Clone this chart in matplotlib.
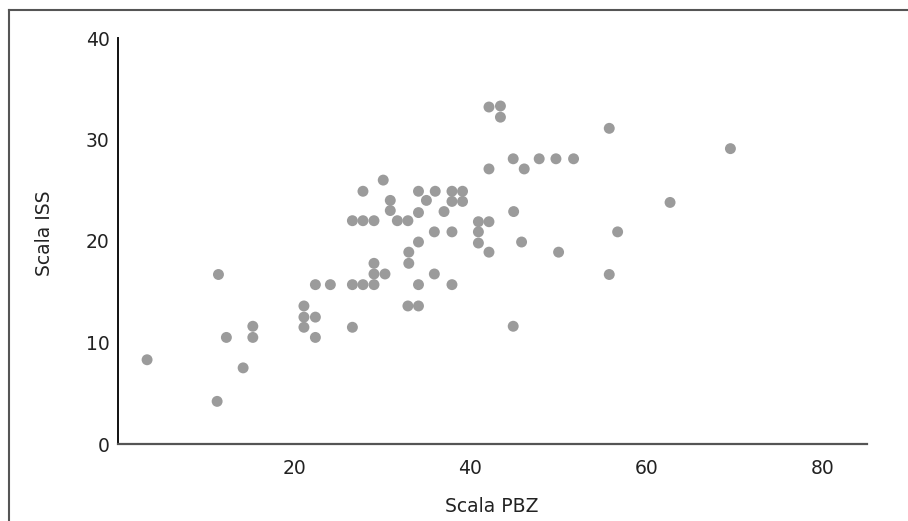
import matplotlib.pyplot as plt
from matplotlib.lines import Line2D

# data
pbz = [3.3, 11.4, 12.3, 15.3, 15.3, 14.2, 11.25,
       21.1, 21.1, 22.4, 21.1, 22.4, 22.4, 24.1, 26.6,
       42.1, 43.4, 43.4, 44.85, 46.1, 47.8, 49.7, 51.7, 42.1,
       30.1, 27.8, 34.1, 36.0, 37.9, 39.1,
       30.9, 35.0, 37.9, 39.1,
       30.9, 34.1, 37.0, 44.9,
       26.6, 27.8, 29.05, 31.7, 32.9, 40.9, 42.1,
       35.9, 37.9, 40.9, 40.9, 34.1, 45.8,
       42.1, 50.0, 33.0, 33.0, 29.05, 29.05, 30.3, 35.9,
       27.8, 29.05, 34.1, 37.9,
       32.9, 34.1, 26.6, 44.85,
       55.75, 69.5, 62.65, 56.7, 55.75]
iss = [8.3, 16.7, 10.5, 11.6, 10.5, 7.5, 4.2,
       13.6, 12.5, 12.5, 11.5, 10.5, 15.7, 15.7, 15.7,
       33.2, 33.3, 32.2, 28.1, 27.1, 28.1, 28.1, 28.1, 27.1,
       26.0, 24.9, 24.9, 24.9, 24.9, 24.9,
       24.0, 24.0, 23.9, 23.9,
       23.0, 22.8, 22.9, 22.9,
       22.0, 22.0, 22.0, 22.0, 22.0, 21.9, 21.9,
       20.9, 20.9, 20.9, 19.8, 19.9, 19.9,
       18.9, 18.9, 18.9, 17.8, 17.8, 16.75, 16.75, 16.75,
       15.7, 15.7, 15.7, 15.7,
       13.6, 13.6, 11.5, 11.6,
       31.1, 29.1, 23.8, 20.9, 16.7]

x_ticks = [20, 40, 60, 80]
y_ticks = [0, 10, 20, 30, 40]

fig = plt.figure(figsize=(9.08, 5.21), dpi=100)
W, H = 908, 521

# outer frame (top and left edges only, as in the cropped original)
fig.add_artist(Line2D([9 / W, 1], [1 - 10 / H, 1 - 10 / H], transform=fig.transFigure,
                      color='#555555', lw=1.5))
fig.add_artist(Line2D([9 / W, 9 / W], [0, 1 - 10 / H], transform=fig.transFigure,
                      color='#555555', lw=1.5))

ax = fig.add_axes([118 / W, 1 - 444 / H, (867 - 118) / W, (444 - 38) / H])
ax.scatter(pbz, iss, s=62, color='#9b9b9b', edgecolors='none', zorder=3)

ax.set_xlim(0, 85)
ax.set_ylim(0, 40)
ax.set_xticks(x_ticks)
ax.set_yticks(y_ticks)
ax.tick_params(axis='both', length=0, labelsize=13.5, colors='#222222')
ax.tick_params(axis='x', pad=11)
ax.tick_params(axis='y', pad=6)

for s in ['top', 'right']:
    ax.spines[s].set_visible(False)
ax.spines['left'].set_color('#111111')
ax.spines['left'].set_linewidth(1.4)
ax.spines['bottom'].set_color('#555555')
ax.spines['bottom'].set_linewidth(1.6)

fig.text(492 / W, 1 - 507 / H, 'Scala PBZ', ha='center', va='center',
         fontsize=13.5, color='#222222')
fig.text(44 / W, 1 - 233 / H, 'Scala ISS', ha='center', va='center',
         rotation=90, fontsize=13.5, color='#222222')

fig.savefig('out.png', dpi=100)
